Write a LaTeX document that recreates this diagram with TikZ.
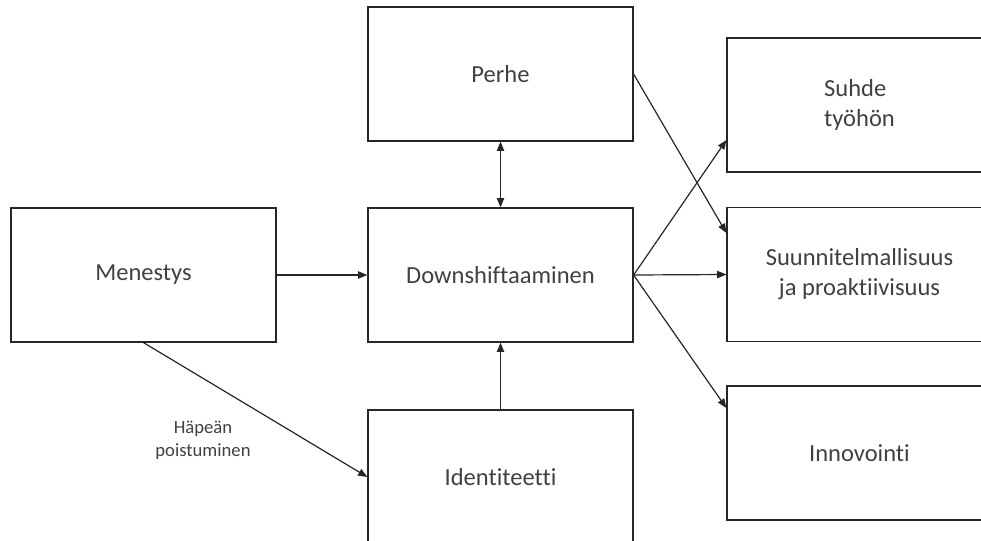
\documentclass[tikz,border=0pt]{standalone}
\usepackage{fontspec}
\setmainfont{Carlito}[Ligatures=NoCommon]
\usetikzlibrary{calc, arrows.meta}
\definecolor{ink}{RGB}{64, 64, 64}
\definecolor{edge}{RGB}{38, 38, 38}

\begin{document}
\begin{tikzpicture}[x=0.75pt, y=-0.75pt,
    >={Triangle[length=7pt, width=5.5pt]},
    box/.style={draw=edge, line width=0.9pt, minimum width=198.75pt, minimum height=100.5pt,
      align=center, text=ink, font=\fontsize{18.4}{22.5}\selectfont},
    link/.style={->, draw=edge, line width=0.9pt}]
  \useasboundingbox (0,0) rectangle (981,540);
  \clip (0,0) rectangle (981,540);
  % keskimmainen sarake
  \node[box] (perhe) at (500.5,74) {Perhe};
  \node[box] (down) at (500.5,275) {Downshiftaaminen};
  \node[box] (iden) at (500.5,477) {Identiteetti};
  \node[box] (men) at (143.5,275) {Menestys};
  % oikea sarake
  \node[box, align=left] (suhde) at (859.5,105) {Suhde\\työhön};
  \node[box] (suun) at (859.5,274.5) {Suunnitelmallisuus\\ja proaktiivisuus};
  \node[box] (inno) at (859.5,453) {Innovointi};
  \node[text=ink, align=center, font=\fontsize{14}{17}\selectfont] (hap) at (203,440) {Häpeän\\poistuminen};

  \draw[link, <->] (perhe.south) -- (down.north);
  \draw[link] (men.east) -- (down.west);
  \draw[link] (men.south) -- (iden.west);
  \draw[link] (iden.north) -- (down.south);
  \draw[link] (perhe.east) -- ($(suun.west)+(0,-41.5)$);
  \draw[link] (down.east) -- ($(suhde.west)+(0,35)$);
  \draw[link] (down.east) -- (suun.west);
  \draw[link] (down.east) -- ($(inno.west)+(0,-45)$);
\end{tikzpicture}
\end{document}
